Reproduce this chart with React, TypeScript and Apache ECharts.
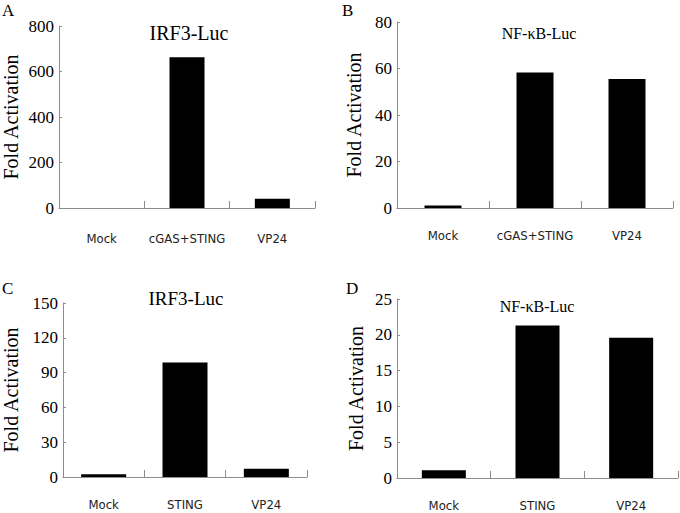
import React, { useEffect, useRef } from "react";
import * as echarts from "echarts";

const catsAB = ["Mock", "cGAS+STING", "VP24"];
const catsCD = ["Mock", "STING", "VP24"];
const valuesA = [0.5, 663, 41];
const valuesB = [1.1, 58.3, 55.5];
const valuesC = [2.3, 98.6, 7.2];
const valuesD = [1.07, 21.3, 19.6];
const yMax = [800, 80, 150, 25];
const yStep = [200, 20, 30, 5];
const titles = ["IRF3-Luc", "NF-\u03baB-Luc", "IRF3-Luc", "NF-\u03baB-Luc"];
const letters = ["A", "B", "C", "D"];

export default function App() {
  const ref = useRef<HTMLDivElement>(null);
  useEffect(() => {
    document.body.style.margin = "0";
    const chart = echarts.init(ref.current!, null, { renderer: "svg" });
    const serif = "Liberation Serif";
    const narrow = "DejaVu Sans Condensed";
    const grids = [
      { left: 55, top: 26, width: 260, height: 182 },
      { left: 397, top: 22, width: 276, height: 186 },
      { left: 57, top: 303, width: 250, height: 174 },
      { left: 397, top: 299, width: 281, height: 179 },
    ];
    const nameGaps = [38, 33, 42, 31];
    const labelMargins = [24, 21, 21, 21];
    const barWidths = [35, 37, 45, 44];
    const cats = [catsAB, catsAB, catsCD, catsCD];
    const vals = [valuesA, valuesB, valuesC, valuesD];
    const axisGray = "#8c8c8c";
    const option: any = {
      animation: false,
      backgroundColor: "#ffffff",
      textStyle: { fontFamily: serif },
      grid: grids.map((g) => ({ ...g, containLabel: false })),
      xAxis: cats.map((c, i) => ({
        type: "category",
        gridIndex: i,
        data: c,
        axisLine: { lineStyle: { color: axisGray, width: 1 } },
        axisTick: { show: true, inside: true, length: 7, lineStyle: { color: axisGray } },
        axisLabel: {
          color: "#222",
          fontFamily: narrow,
          fontSize: 13,
          margin: labelMargins[i],
          interval: 0,
        },
      })),
      yAxis: yMax.map((m, i) => ({
        type: "value",
        gridIndex: i,
        min: 0,
        max: m,
        interval: yStep[i],
        splitLine: { show: false },
        axisLine: { show: true, lineStyle: { color: axisGray, width: 1 } },
        axisTick: { show: true, inside: true, length: 3, lineStyle: { color: axisGray } },
        axisLabel: {
          color: "#000",
          fontFamily: serif,
          fontSize: 17,
          margin: 5,
        },
        name: "Fold Activation",
        nameLocation: "middle",
        nameRotate: 90,
        nameGap: nameGaps[i],
        nameTextStyle: { color: "#000", fontFamily: serif, fontSize: 20 },
      })),
      series: vals.map((v, i) => ({
        type: "bar",
        xAxisIndex: i,
        yAxisIndex: i,
        data: v,
        barWidth: barWidths[i],
        itemStyle: { color: "#000" },
      })),
      graphic: [
        ...[
          [189, 33, 20],
          [539, 33, 16],
          [186, 298, 19],
          [537, 306, 16],
        ].map((p, i) => ({
          type: "text",
          x: p[0],
          y: p[1],
          style: {
            text: titles[i],
            font: `${p[2]}px ${serif}`,
            fill: "#000",
            textAlign: "center",
            textVerticalAlign: "middle",
          },
        })),
        ...[
          [2, 10],
          [342, 10],
          [2, 288],
          [346, 288],
        ].map((p, i) => ({
          type: "text",
          x: p[0],
          y: p[1],
          style: {
            text: letters[i],
            font: `17px ${serif}`,
            fill: "#000",
            textAlign: "left",
            textVerticalAlign: "middle",
          },
        })),
      ],
    };
    chart.setOption(option);
    return () => chart.dispose();
  }, []);
  return (
    <div
      ref={ref}
      style={{ width: 680, height: 513, position: "absolute", left: 0, top: 0 }}
    />
  );
}
